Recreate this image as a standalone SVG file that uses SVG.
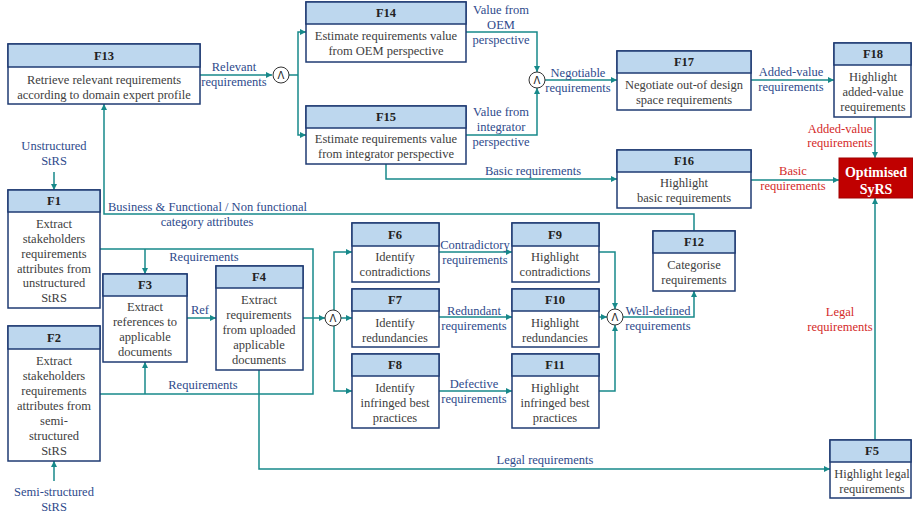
<svg xmlns="http://www.w3.org/2000/svg" width="913" height="514" viewBox="0 0 913 514">
<defs>
<marker id="ar" viewBox="0 0 10 10" refX="10" refY="5" markerWidth="6" markerHeight="6" orient="auto" markerUnits="userSpaceOnUse">
<path d="M0,0 L10,5 L0,10 z" fill="#17898A"/>
</marker>
</defs>
<style>
.box{fill:#fff;stroke:#1F3B73;stroke-width:1.5}
.hdr{fill:#BDD7EE;stroke:#1F3B73;stroke-width:1.5}
.t{font-family:"Liberation Serif","Times New Roman",serif;font-size:12.5px;fill:#404040;text-anchor:middle}
.h{font-weight:bold;fill:#222}
.lbl{fill:#2E4A8C}
.red{fill:#D42A2A}
.c{fill:none;stroke:#17898A;stroke-width:1.5}
.a{marker-end:url(#ar)}
.and{fill:#fff;stroke:#333;stroke-width:1}
.andt{font-family:"DejaVu Sans",sans-serif;font-size:10px;fill:#222;text-anchor:middle}
</style>
<rect width="913" height="514" fill="#fff"/>

<g id="connectors">
<path class="c a" d="M200,75 H272"/>
<path class="c" d="M289,75 H298"/>
<path class="c a" d="M298,75 V32 H306"/>
<path class="c a" d="M298,75 V135 H306"/>
<path class="c a" d="M466,32 H537 V72"/>
<path class="c a" d="M466,135 H537 V88"/>
<path class="c a" d="M545,80 H617"/>
<path class="c a" d="M751,80 H834"/>
<path class="c a" d="M875,117 V158"/>
<path class="c a" d="M386,164 V179 H617"/>
<path class="c a" d="M751,180 H839"/>
<path class="c a" d="M875,440 V198"/>
<path class="c a" d="M259,370 V469 H830"/>
<path class="c a" d="M54,172 V190"/>
<path class="c a" d="M54,481 V461"/>
<path class="c" d="M100,249 H313 V394 H100"/>
<path class="c a" d="M145,249 V274"/>
<path class="c a" d="M145,394 V362"/>
<path class="c a" d="M187,318 H216"/>
<path class="c a" d="M303,318 H325"/>
<path class="c a" d="M341,318 H352"/>
<path class="c a" d="M334,310 V252 H352"/>
<path class="c a" d="M334,326 V391 H352"/>
<path class="c a" d="M439,252 H512"/>
<path class="c a" d="M439,317 H512"/>
<path class="c a" d="M439,391 H512"/>
<path class="c a" d="M599,252 H615 V309"/>
<path class="c a" d="M599,317 H607"/>
<path class="c a" d="M599,391 H615 V325"/>
<path class="c a" d="M623,317 H694 V291"/>
<path class="c a" d="M694,231 V214 H104 V104"/>

<circle class="and" cx="281" cy="75" r="8"/><text class="andt" x="281" y="79">Λ</text>
<circle class="and" cx="537" cy="80" r="8"/><text class="andt" x="537" y="84">Λ</text>
<circle class="and" cx="333" cy="318" r="8"/><text class="andt" x="333" y="322">Λ</text>
<circle class="and" cx="615" cy="317" r="8"/><text class="andt" x="615" y="321">Λ</text>

<text class="t lbl" x="234" y="71">Relevant</text>
<text class="t lbl" x="234" y="86">requirements</text>
<text class="t lbl" x="501" y="14">Value from</text>
<text class="t lbl" x="501" y="29">OEM</text>
<text class="t lbl" x="501" y="44">perspective</text>
<text class="t lbl" x="501" y="116">Value from</text>
<text class="t lbl" x="501" y="131">integrator</text>
<text class="t lbl" x="501" y="146">perspective</text>
<text class="t lbl" x="578" y="77">Negotiable</text>
<text class="t lbl" x="578" y="92">requirements</text>
<text class="t lbl" x="791" y="76">Added-value</text>
<text class="t lbl" x="791" y="91">requirements</text>
<text class="t red" x="840" y="133">Added-value</text>
<text class="t red" x="840" y="147">requirements</text>
<text class="t lbl" x="533" y="175">Basic requirements</text>
<text class="t red" x="793" y="175">Basic</text>
<text class="t red" x="793" y="190">requirements</text>
<text class="t red" x="840" y="316">Legal</text>
<text class="t red" x="840" y="331">requirements</text>
<text class="t lbl" x="545" y="464">Legal requirements</text>
<text class="t lbl" x="108" y="211" style="text-anchor:start">Business &amp; Functional / Non functional</text>
<text class="t lbl" x="207" y="226">category attributes</text>
<text class="t lbl" x="204" y="261">Requirements</text>
<text class="t lbl" x="203" y="389">Requirements</text>
<text class="t lbl" x="200" y="314">Ref</text>
<text class="t lbl" x="475" y="249">Contradictory</text>
<text class="t lbl" x="475" y="264">requirements</text>
<text class="t lbl" x="474" y="315">Redundant</text>
<text class="t lbl" x="474" y="330">requirements</text>
<text class="t lbl" x="474" y="388">Defective</text>
<text class="t lbl" x="474" y="403">requirements</text>
<text class="t lbl" x="658" y="315">Well-defined</text>
<text class="t lbl" x="658" y="330">requirements</text>
<text class="t lbl" x="54" y="150">Unstructured</text>
<text class="t lbl" x="54" y="165">StRS</text>
<text class="t lbl" x="54" y="496">Semi-structured</text>
<text class="t lbl" x="54" y="511">StRS</text>
</g>

<g id="F13">
<rect class="box" x="8" y="44" width="192" height="60"/><rect class="hdr" x="8" y="44" width="192" height="23"/>
<text class="t h" x="104" y="60">F13</text>
<text class="t" x="104" y="84">Retrieve relevant requirements</text>
<text class="t" x="104" y="99">according to domain expert profile</text>
</g>
<g id="F14">
<rect class="box" x="306" y="2" width="160" height="60"/><rect class="hdr" x="306" y="2" width="160" height="22"/>
<text class="t h" x="386" y="17">F14</text>
<text class="t" x="386" y="40">Estimate requirements value</text>
<text class="t" x="386" y="55">from OEM perspective</text>
</g>
<g id="F15">
<rect class="box" x="306" y="106" width="160" height="58"/><rect class="hdr" x="306" y="106" width="160" height="22"/>
<text class="t h" x="386" y="121">F15</text>
<text class="t" x="386" y="143">Estimate requirements value</text>
<text class="t" x="386" y="158">from integrator perspective</text>
</g>
<g id="F17">
<rect class="box" x="617" y="51" width="134" height="59"/><rect class="hdr" x="617" y="51" width="134" height="22"/>
<text class="t h" x="684" y="66">F17</text>
<text class="t" x="684" y="89">Negotiate out-of design</text>
<text class="t" x="684" y="104">space requirements</text>
</g>
<g id="F16">
<rect class="box" x="617" y="150" width="134" height="58"/><rect class="hdr" x="617" y="150" width="134" height="22"/>
<text class="t h" x="684" y="165">F16</text>
<text class="t" x="684" y="187">Highlight</text>
<text class="t" x="684" y="202">basic requirements</text>
</g>
<g id="F18">
<rect class="box" x="834" y="43" width="77" height="74"/><rect class="hdr" x="834" y="43" width="77" height="22"/>
<text class="t h" x="873" y="58">F18</text>
<text class="t" x="873" y="81">Highlight</text>
<text class="t" x="873" y="96">added-value</text>
<text class="t" x="873" y="111">requirements</text>
</g>
<g id="OptimisedSyRS">
<rect x="839" y="158" width="74" height="40" fill="#C00000" stroke="#A00000" stroke-width="1"/>
<text class="t h" x="876" y="177" style="font-size:14px;fill:#fff">Optimised</text>
<text class="t h" x="876" y="194" style="font-size:14px;fill:#fff">SyRS</text>
</g>
<g id="F1">
<rect class="box" x="8" y="190" width="92" height="118"/><rect class="hdr" x="8" y="190" width="92" height="22"/>
<text class="t h" x="54" y="205">F1</text>
<text class="t" x="54" y="228">Extract</text>
<text class="t" x="54" y="243">stakeholders</text>
<text class="t" x="54" y="258">requirements</text>
<text class="t" x="54" y="273">attributes from</text>
<text class="t" x="54" y="287">unstructured</text>
<text class="t" x="54" y="302">StRS</text>
</g>
<g id="F2">
<rect class="box" x="8" y="326" width="92" height="135"/><rect class="hdr" x="8" y="326" width="92" height="23"/>
<text class="t h" x="54" y="342">F2</text>
<text class="t" x="54" y="365">Extract</text>
<text class="t" x="54" y="380">stakeholders</text>
<text class="t" x="54" y="395">requirements</text>
<text class="t" x="54" y="410">attributes from</text>
<text class="t" x="54" y="425">semi-</text>
<text class="t" x="54" y="440">structured</text>
<text class="t" x="54" y="455">StRS</text>
</g>
<g id="F3">
<rect class="box" x="103" y="274" width="84" height="88"/><rect class="hdr" x="103" y="274" width="84" height="22"/>
<text class="t h" x="145" y="289">F3</text>
<text class="t" x="145" y="311">Extract</text>
<text class="t" x="145" y="326">references to</text>
<text class="t" x="145" y="341">applicable</text>
<text class="t" x="145" y="356">documents</text>
</g>
<g id="F4">
<rect class="box" x="216" y="266" width="87" height="104"/><rect class="hdr" x="216" y="266" width="87" height="22"/>
<text class="t h" x="259" y="281">F4</text>
<text class="t" x="259" y="304">Extract</text>
<text class="t" x="259" y="319">requirements</text>
<text class="t" x="259" y="334">from uploaded</text>
<text class="t" x="259" y="349">applicable</text>
<text class="t" x="259" y="364">documents</text>
</g>
<g id="F6">
<rect class="box" x="352" y="223" width="87" height="59"/><rect class="hdr" x="352" y="223" width="87" height="23"/>
<text class="t h" x="395" y="239">F6</text>
<text class="t" x="395" y="261">Identify</text>
<text class="t" x="395" y="276">contradictions</text>
</g>
<g id="F7">
<rect class="box" x="352" y="289" width="87" height="58"/><rect class="hdr" x="352" y="289" width="87" height="22"/>
<text class="t h" x="395" y="304">F7</text>
<text class="t" x="395" y="327">Identify</text>
<text class="t" x="395" y="342">redundancies</text>
</g>
<g id="F8">
<rect class="box" x="352" y="354" width="87" height="74"/><rect class="hdr" x="352" y="354" width="87" height="22"/>
<text class="t h" x="395" y="369">F8</text>
<text class="t" x="395" y="392">Identify</text>
<text class="t" x="395" y="407">infringed best</text>
<text class="t" x="395" y="422">practices</text>
</g>
<g id="F9">
<rect class="box" x="512" y="223" width="87" height="59"/><rect class="hdr" x="512" y="223" width="87" height="23"/>
<text class="t h" x="555" y="239">F9</text>
<text class="t" x="555" y="261">Highlight</text>
<text class="t" x="555" y="276">contradictions</text>
</g>
<g id="F10">
<rect class="box" x="512" y="289" width="87" height="58"/><rect class="hdr" x="512" y="289" width="87" height="22"/>
<text class="t h" x="555" y="304">F10</text>
<text class="t" x="555" y="327">Highlight</text>
<text class="t" x="555" y="342">redundancies</text>
</g>
<g id="F11">
<rect class="box" x="512" y="354" width="87" height="74"/><rect class="hdr" x="512" y="354" width="87" height="22"/>
<text class="t h" x="555" y="369">F11</text>
<text class="t" x="555" y="392">Highlight</text>
<text class="t" x="555" y="407">infringed best</text>
<text class="t" x="555" y="422">practices</text>
</g>
<g id="F12">
<rect class="box" x="653" y="231" width="82" height="60"/><rect class="hdr" x="653" y="231" width="82" height="22"/>
<text class="t h" x="694" y="246">F12</text>
<text class="t" x="694" y="269">Categorise</text>
<text class="t" x="694" y="284">requirements</text>
</g>
<g id="F5">
<rect class="box" x="830" y="440" width="81" height="58"/><rect class="hdr" x="830" y="440" width="81" height="22"/>
<text class="t h" x="872" y="455">F5</text>
<text class="t" x="872" y="478">Highlight legal</text>
<text class="t" x="872" y="493">requirements</text>
</g>
</svg>
